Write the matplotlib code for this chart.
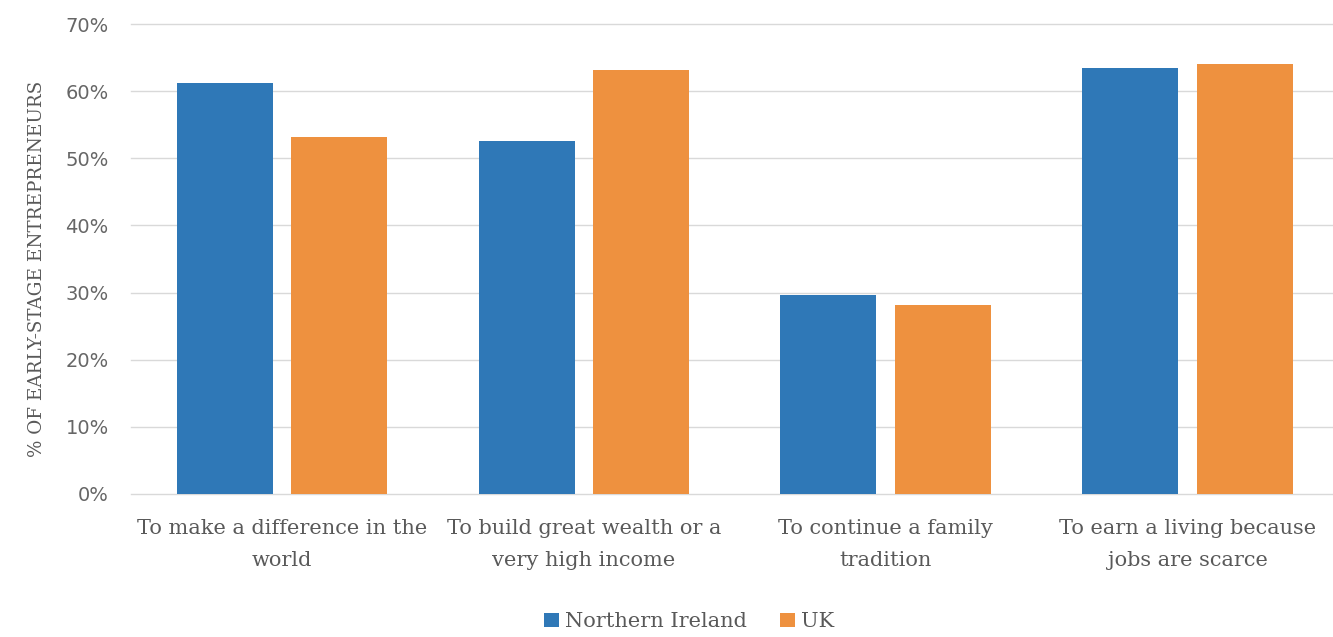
import numpy as np
import matplotlib.pyplot as plt
from matplotlib.ticker import PercentFormatter

categories = ["To make a difference in the\nworld",
              "To build great wealth or a\nvery high income",
              "To continue a family\ntradition",
              "To earn a living because\njobs are scarce"]
northern_ireland = [61.2, 52.6, 29.7, 63.4]
uk = [53.2, 63.2, 28.2, 64.1]
series_names = ["Northern Ireland", "UK"]

blue = '#2f78b7'
orange = '#ee913f'
grey = '#595959'

fig = plt.figure(figsize=(13.33, 6.37), dpi=100)
ax = fig.add_axes([0.0983, 0.2245, 0.906, 0.7378])

x = np.arange(len(categories))
w = 0.318
off = 0.19
ax.bar(x - off, northern_ireland, w, color=blue, label=series_names[0], zorder=3)
ax.bar(x + off, uk, w, color=orange, label=series_names[1], zorder=3)

ax.set_xlim(-0.5, len(categories) - 0.5)
ax.set_ylim(0, 70)
ax.set_yticks(np.arange(0, 71, 10))
ax.yaxis.set_major_formatter(PercentFormatter(decimals=0))
ax.grid(axis='y', color='#d9d9d9', lw=1, zorder=0)
for line in ax.get_ygridlines():
    line.set_clip_on(False)
for s in ax.spines.values():
    s.set_visible(False)
ax.tick_params(length=0)
ax.tick_params(axis='y', pad=16, labelsize=14, labelcolor='#666666')
ax.tick_params(axis='x', pad=18, labelcolor=grey)

ax.set_xticks(x)
ax.set_xticklabels(categories, family='DejaVu Serif', fontsize=15, linespacing=1.85)
for t in ax.get_yticklabels():
    t.set_family('DejaVu Sans')

ax.set_ylabel('% OF EARLY-STAGE ENTREPRENEURS', family='DejaVu Serif',
              fontsize=13.2, color=grey)
ax.yaxis.set_label_coords(-0.07, 0.48)

ax.legend(loc='center', bbox_to_anchor=(0.462, -0.272),
          ncol=2, frameon=False, handlelength=0.7, handleheight=0.7,
          handletextpad=0.3, columnspacing=1.6,
          prop={'family': 'DejaVu Serif', 'size': 15}, labelcolor=grey)

fig.savefig('out.png', dpi=100)
